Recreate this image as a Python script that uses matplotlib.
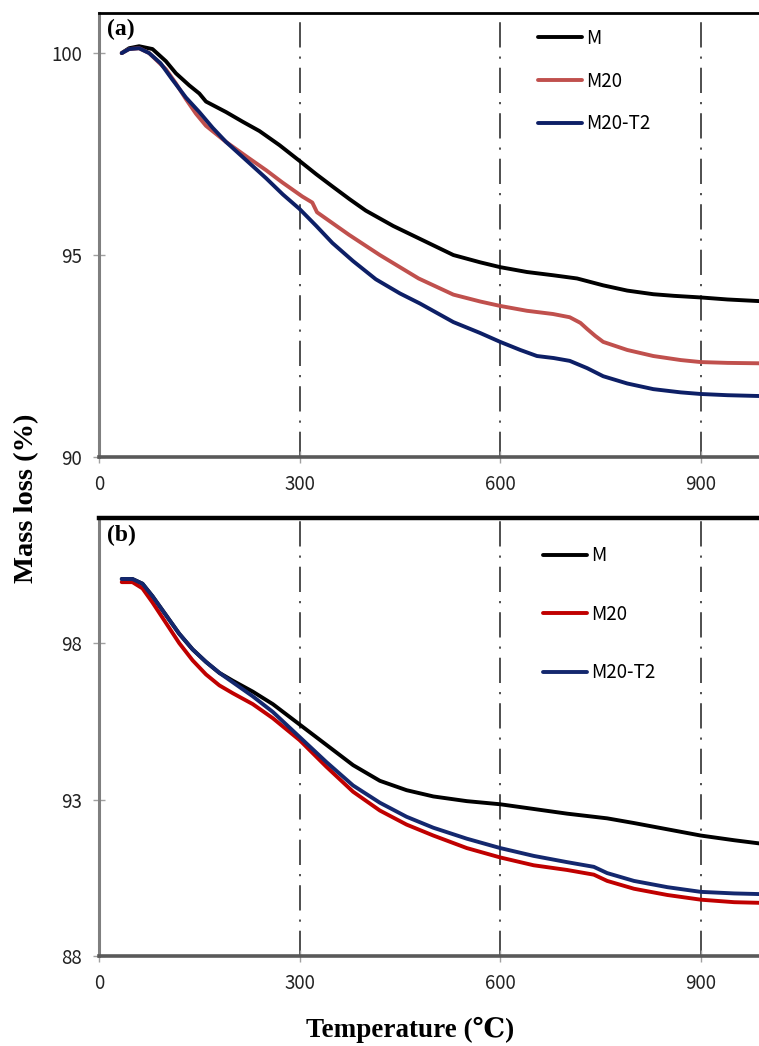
import numpy as np
import matplotlib
matplotlib.use("Agg")
import matplotlib.pyplot as plt

plt.rcParams['font.family'] = ['Noto Sans CJK KR', 'DejaVu Sans']

# ---- panel (a) ----
t_a_m = [34, 45, 60, 80, 100, 115, 135, 150, 160, 175, 190, 215, 240, 270, 300, 325, 349, 375,
         399, 440, 480, 530, 570, 600, 640, 679, 715, 754, 790, 829, 860, 900, 940, 987]
m_a_m = [100.0, 100.12, 100.17, 100.1, 99.8, 99.5, 99.2, 99.0, 98.8, 98.67, 98.54, 98.3, 98.07, 97.72,
         97.33, 97.0, 96.7, 96.38, 96.1, 95.72, 95.4, 95.0, 94.82, 94.7, 94.58, 94.5, 94.42, 94.25,
         94.12, 94.03, 93.99, 93.95, 93.9, 93.86]

t_a_m20 = [34, 45, 60, 75, 100, 115, 130, 145, 160, 190, 224, 250, 274, 304, 319, 326, 350, 374, 420,
           478, 530, 570, 600, 640, 679, 704, 720, 730, 742, 754, 790, 829, 870, 900, 940, 987]
m_a_m20 = [100.0, 100.1, 100.12, 100.0, 99.6, 99.25, 98.86, 98.5, 98.2, 97.8, 97.4, 97.1, 96.8, 96.45,
           96.3, 96.06, 95.78, 95.5, 95.0, 94.42, 94.02, 93.85, 93.74, 93.62, 93.54, 93.46, 93.32,
           93.17, 93.0, 92.85, 92.65, 92.5, 92.4, 92.35, 92.33, 92.32]

t_a_t2 = [34, 45, 60, 75, 92, 109, 130, 150, 170, 190, 220, 250, 275, 300, 325, 349, 380, 414, 450,
          480, 530, 570, 600, 630, 655, 680, 704, 730, 754, 790, 829, 870, 900, 940, 987]
m_a_t2 = [100.0, 100.1, 100.12, 100.0, 99.75, 99.36, 98.9, 98.54, 98.15, 97.8, 97.35, 96.9, 96.5,
          96.14, 95.72, 95.3, 94.85, 94.4, 94.05, 93.8, 93.34, 93.07, 92.85, 92.65, 92.5, 92.45,
          92.38, 92.2, 92.0, 91.82, 91.68, 91.6, 91.56, 91.53, 91.51]

# ---- panel (b) ----
t_b = [34, 50, 65, 80, 100, 120, 140, 160, 180, 200, 230, 260, 300, 340, 380, 420, 460, 500,
       550, 600, 650, 700, 740, 760, 800, 850, 900, 950, 987]
m_b_m = [100.05, 100.05, 99.9, 99.5, 98.9, 98.3, 97.8, 97.4, 97.05, 96.8, 96.45, 96.05, 95.4, 94.75,
         94.1, 93.6, 93.3, 93.1, 92.95, 92.85, 92.7, 92.55, 92.45, 92.4, 92.25, 92.05, 91.85, 91.7, 91.6]
m_b_m20 = [99.95, 99.95, 99.75, 99.3, 98.65, 98.0, 97.45, 97.0, 96.65, 96.4, 96.05, 95.6, 94.9, 94.05,
           93.25, 92.65, 92.2, 91.85, 91.45, 91.15, 90.9, 90.75, 90.6, 90.4, 90.15, 89.95, 89.8,
           89.72, 89.7]
m_b_t2 = [100.05, 100.05, 99.9, 99.5, 98.9, 98.3, 97.8, 97.4, 97.05, 96.75, 96.3, 95.8, 95.0, 94.2,
          93.45, 92.9, 92.45, 92.1, 91.75, 91.45, 91.2, 91.0, 90.85, 90.65, 90.4, 90.2, 90.05,
          90.0, 89.98]

labels = ['M', 'M20', 'M20-T2']
ref_temps = [300, 600, 900]

W, H = 759, 1046
fig = plt.figure(figsize=(W / 100, H / 100), dpi=100)

ax_w = 1000 * (200.6 / 300) / W
ax_a = fig.add_axes([99 / W, 1 - 457 / H, ax_w, (457 - 12.7) / H])
ax_b = fig.add_axes([99 / W, 1 - 956 / H, ax_w, (956 - 518) / H])


def style(ax, ylim, yticks, top_lw):
    ax.set_xlim(0, 1000)
    ax.set_ylim(*ylim)
    ax.set_xticks([0, 300, 600, 900])
    ax.set_yticks(yticks)
    ax.spines['right'].set_visible(False)
    ax.spines['top'].set_linewidth(top_lw)
    ax.spines['top'].set_color('black')
    ax.spines['left'].set_linewidth(2.2)
    ax.spines['left'].set_color('#7f7f7f')
    ax.spines['bottom'].set_linewidth(2.6)
    ax.spines['bottom'].set_color('#595959')
    ax.tick_params(direction='inout', length=8, width=1, color='#a0a0a0',
                   labelsize=13.5, pad=8, labelcolor='#222222')
    for t in ref_temps:
        ax.axvline(t, color='#404040', lw=1.3, ls=(0, (14, 5, 1.2, 5)), zorder=1)


style(ax_a, (90, 101), [90, 95, 100], 2.0)
style(ax_b, (88, 102), [88, 93, 98], 3.2)

ax_a.plot(t_a_m, m_a_m, color='black', lw=2.8, label=labels[0], solid_capstyle='round')
ax_a.plot(t_a_m20, m_a_m20, color='#c0504d', lw=2.8, label=labels[1], solid_capstyle='round')
ax_a.plot(t_a_t2, m_a_t2, color='#0d1f66', lw=2.8, label=labels[2], solid_capstyle='round')

ax_b.plot(t_b, m_b_m, color='black', lw=2.8, label=labels[0], solid_capstyle='round')
ax_b.plot(t_b, m_b_m20, color='#c00000', lw=2.8, label=labels[1], solid_capstyle='round')
ax_b.plot(t_b, m_b_t2, color='#14286e', lw=2.8, label=labels[2], solid_capstyle='round')

for ax, anchor, spacing in [(ax_a, (0.6565, 0.9655), 1.15), (ax_b, (0.664, 0.938), 2.0)]:
    ax.legend(loc='upper left', bbox_to_anchor=anchor, frameon=False, fontsize=13.5,
              handlelength=2.35, handletextpad=0.2, labelspacing=spacing,
              borderaxespad=0, borderpad=0)

ax_a.text(0.012, 0.985, '(a)', transform=ax_a.transAxes, ha='left', va='top',
          family='Liberation Serif', fontweight='bold', fontsize=17)
ax_b.text(0.012, 0.985, '(b)', transform=ax_b.transAxes, ha='left', va='top',
          family='Liberation Serif', fontweight='bold', fontsize=17)

fig.text(27 / W, 1 - 498 / H, 'Mass loss (%)', rotation=90, ha='center', va='center',
         family='Liberation Serif', fontweight='bold', fontsize=20.5)
fig.text(410 / W, 1 - 1030 / H, 'Temperature (\u2103)', ha='center', va='center',
         family=['Liberation Serif', 'DejaVu Serif'], fontweight='bold', fontsize=19.5)

fig.savefig('out.png', dpi=100)
